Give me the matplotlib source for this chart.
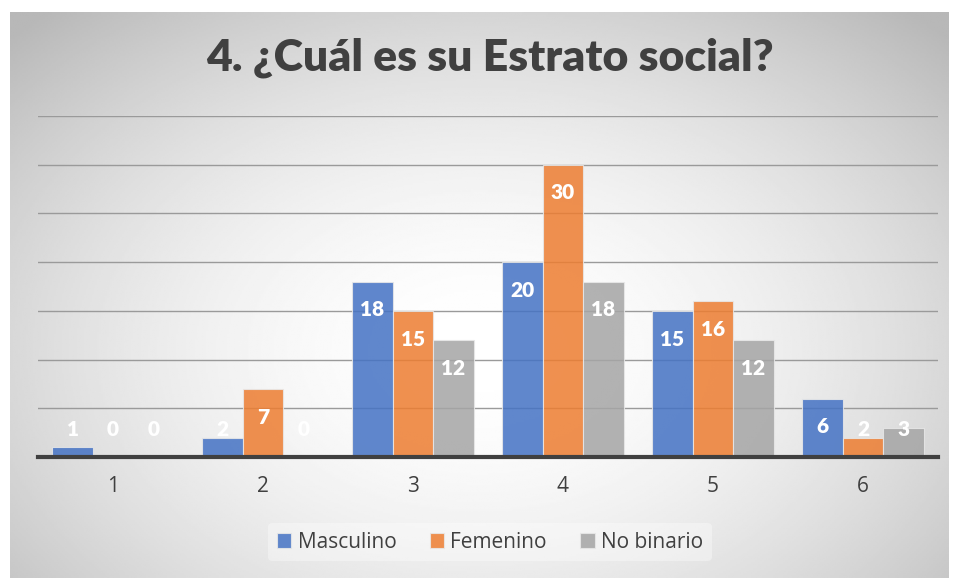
import matplotlib.pyplot as plt
import numpy as np

categorias = ["1", "2", "3", "4", "5", "6"]
masculino = [1, 2, 18, 20, 15, 6]
femenino = [0, 7, 15, 30, 16, 2]
no_binario = [0, 0, 12, 18, 12, 3]
series = ["Masculino", "Femenino", "No binario"]
colores = ["#4472C4", "#ED7D31", "#A5A5A5"]

W, H = 959, 578
fig = plt.figure(figsize=(W / 100, H / 100), dpi=100)

# fondo con degradado radial
bg = fig.add_axes([10 / W, 0, 939 / W, 566 / H])
yy, xx = np.mgrid[0:1:300j, 0:1:500j]
r = np.sqrt(((xx - 0.5) / 0.7) ** 2 + ((yy - 0.6) / 0.8) ** 2)
img = 1 - 0.28 * np.clip(r, 0, 1) ** 1.8
bg.imshow(img, cmap="gray", vmin=0, vmax=1, aspect="auto", extent=[0, 1, 0, 1])
bg.set_axis_off()

ax = fig.add_axes([38 / W, (H - 457) / H, 900 / W, (457 - 116) / H])
ax.patch.set_alpha(0)
x = np.arange(len(categorias))
ancho = 0.27
for i, (vals, nombre, c) in enumerate(zip([masculino, femenino, no_binario], series, colores)):
    pos = x + (i - 1) * ancho
    ax.bar(pos, vals, ancho, color=c, alpha=0.85, edgecolor="#e8e8e8", linewidth=0.8,
           label=nombre, zorder=3)
    for p, v in zip(pos, vals):
        ax.text(p, max(v, 5.7) - 2.9, str(v), ha="center", va="center", color="white",
                fontsize=15, fontweight="heavy", family="Lato", zorder=4)

ax.set_xlim(-0.5, 5.5)
ax.set_ylim(0, 35)
ax.set_yticks(np.arange(5, 36, 5))
ax.yaxis.grid(True, color="#9a9a9a", linewidth=1, zorder=1)
ax.tick_params(axis="y", left=False, labelleft=False)
ax.set_xticks(x)
ax.set_xticklabels(categorias, fontsize=15, color="#404040", family="Open Sans")
ax.tick_params(axis="x", length=0, pad=14)
for s in ["top", "right", "left"]:
    ax.spines[s].set_visible(False)
ax.spines["bottom"].set_color("#404040")
ax.spines["bottom"].set_linewidth(3)
ax.spines["bottom"].set_zorder(5)

fig.text(0.511, 1 - 58 / H, "4. ¿Cuál es su Estrato social?", ha="center", va="center",
         fontsize=32, fontweight="heavy", color="#404040", family="Lato")

leg = fig.legend(loc="center", bbox_to_anchor=(490 / W, 1 - 542 / H), ncol=3, frameon=True,
                 handlelength=0.7, handleheight=0.7, handletextpad=0.3,
                 columnspacing=1.6, prop={"family": "Open Sans", "size": 15})
leg.get_frame().set_facecolor("white")
leg.get_frame().set_alpha(0.35)
leg.get_frame().set_edgecolor("none")
for t in leg.get_texts():
    t.set_color("#404040")

fig.savefig("out.png", dpi=100)
